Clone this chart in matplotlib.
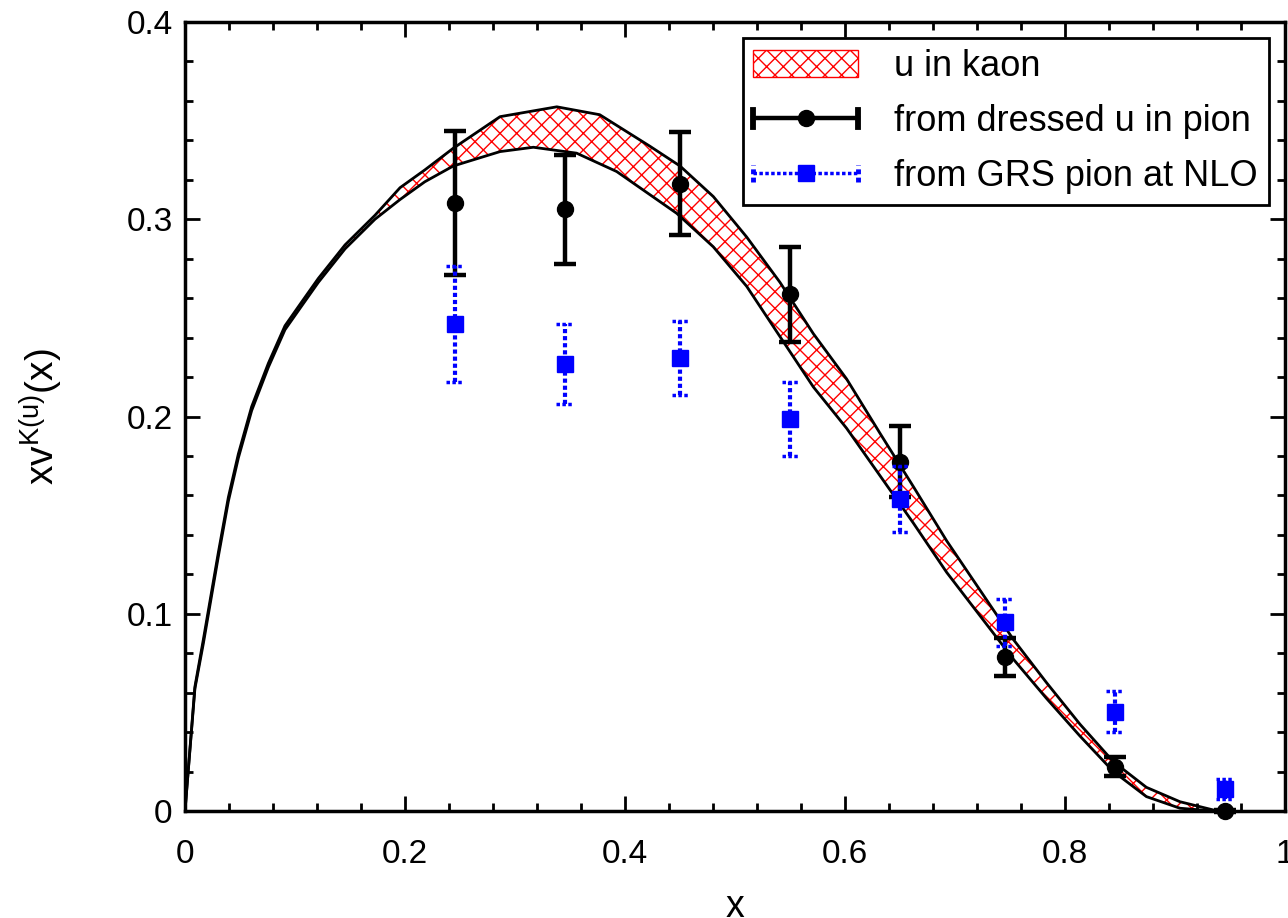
import matplotlib
matplotlib.use("Agg")
import matplotlib.pyplot as plt
from matplotlib.lines import Line2D
from matplotlib.patches import Patch
from matplotlib.legend_handler import HandlerBase
import numpy as np

plt.rcParams['font.family'] = ['Liberation Sans', 'DejaVu Sans']
plt.rcParams['mathtext.fontset'] = 'custom'
plt.rcParams['mathtext.rm'] = 'Liberation Sans'
plt.rcParams['mathtext.it'] = 'Liberation Sans'
plt.rcParams['hatch.linewidth'] = 1.0

# ---- data ----
band_upper_x = [0.0, 0.009, 0.0167, 0.0303, 0.0394, 0.0485, 0.0606, 0.0758, 0.0909, 0.106,
                0.1212, 0.1455, 0.1727, 0.1955, 0.218, 0.2439, 0.2864, 0.338, 0.377, 0.4227,
                0.45, 0.4803, 0.5106, 0.5409, 0.5712, 0.6015, 0.6318, 0.6621, 0.6924, 0.7227,
                0.753, 0.7833, 0.8136, 0.844, 0.874, 0.9045, 0.935, 0.94]
band_upper_y = [0.0, 0.063, 0.087, 0.131, 0.159, 0.181, 0.205, 0.227, 0.246, 0.258,
                0.270, 0.287, 0.302, 0.316, 0.325, 0.336, 0.352, 0.357, 0.353, 0.337,
                0.327, 0.3115, 0.291, 0.268, 0.242, 0.219, 0.1915, 0.1645, 0.137, 0.112,
                0.087, 0.065, 0.044, 0.025, 0.012, 0.0047, 0.0005, 0.0]
band_lower_x = [0.0, 0.009, 0.0167, 0.0303, 0.0394, 0.0485, 0.0606, 0.0758, 0.0909, 0.106,
                0.1212, 0.1455, 0.1727, 0.1955, 0.218, 0.2439, 0.2864, 0.3167, 0.356, 0.3924,
                0.447, 0.4803, 0.5106, 0.5409, 0.5712, 0.6015, 0.6318, 0.6621, 0.6924, 0.7227,
                0.753, 0.7833, 0.8136, 0.844, 0.874, 0.9045, 0.935, 0.94]
band_lower_y = [0.0, 0.062, 0.085, 0.129, 0.157, 0.179, 0.203, 0.225, 0.244, 0.256,
                0.268, 0.285, 0.300, 0.310, 0.319, 0.327, 0.3343, 0.3365, 0.3335, 0.3242,
                0.303, 0.286, 0.266, 0.2405, 0.215, 0.194, 0.170, 0.146, 0.121, 0.099,
                0.077, 0.057, 0.038, 0.020, 0.0073, 0.0014, 0.0, 0.0]

pts_x = [0.245, 0.345, 0.45, 0.55, 0.65, 0.745, 0.845, 0.945]
dressed_y = [0.308, 0.305, 0.318, 0.262, 0.177, 0.078, 0.0225, 0.0]
dressed_err = [0.0365, 0.0275, 0.026, 0.024, 0.018, 0.0095, 0.0047, 0.0005]
grs_y = [0.247, 0.2265, 0.2296, 0.1987, 0.158, 0.0957, 0.0504, 0.011]
grs_err = [0.0293, 0.0203, 0.0186, 0.0186, 0.0167, 0.0118, 0.0103, 0.0051]

xticks = [0, 0.2, 0.4, 0.6, 0.8, 1.0]
xtick_labels = ['0', '0.2', '0.4', '0.6', '0.8', '1']
yticks = [0, 0.1, 0.2, 0.3, 0.4]
ytick_labels = ['0', '0.1', '0.2', '0.3', '0.4']

legend_labels = ['u in kaon', 'from dressed u in pion', 'from GRS pion at NLO']

# ---- figure ----
fig = plt.figure(figsize=(12.88, 9.18), dpi=100)
ax = fig.add_axes([185/1288, 1 - 811/918, 1100/1288, (811 - 22)/918])

# band
common_x = np.union1d(band_upper_x, band_lower_x)
up = np.interp(common_x, band_upper_x, band_upper_y)
lo = np.interp(common_x, band_lower_x, band_lower_y)
ax.fill_between(common_x, lo, up, facecolor='white', edgecolor='red', hatch='xx',
                linewidth=0, zorder=1)
ax.plot(band_upper_x, band_upper_y, color='black', lw=2.0, zorder=2)
ax.plot(band_lower_x, band_lower_y, color='black', lw=2.0, zorder=2)

# dressed (black)
eb = ax.errorbar(pts_x, dressed_y, yerr=dressed_err, fmt='o', color='black', ms=11.5,
                 elinewidth=3.2, capsize=8, capthick=3.2, zorder=4)
for art in eb.lines:
    if art is None:
        continue
    if isinstance(art, tuple):
        for a in art:
            a.set_clip_on(False)
    else:
        art.set_clip_on(False)

# GRS (blue, dotted bars)
blue = '#0000ff'
px = np.array(pts_x)
gy = np.array(grs_y)
ge = np.array(grs_err)
ax.vlines(px, gy - ge, gy + ge, colors=blue, linestyles=[(0, (1.0, 0.7))], lw=3.0, zorder=5)
capw = 0.0075
ax.hlines(gy + ge, px - capw, px + capw, colors=blue, linestyles=[(0, (1.0, 0.7))], lw=2.5, zorder=5)
ax.hlines(gy - ge, px - capw, px + capw, colors=blue, linestyles=[(0, (1.0, 0.7))], lw=2.5, zorder=5)
ax.plot(px, gy, 's', color=blue, ms=12, zorder=6, ls='none', clip_on=False)

ax.set_xlim(0, 1)
ax.set_ylim(0, 0.4)
ax.set_xticks(xticks)
ax.set_xticklabels(xtick_labels)
ax.set_yticks(yticks)
ax.set_yticklabels(ytick_labels)
ax.set_xticks(np.arange(0, 1.0001, 0.04), minor=True)
ax.set_yticks(np.arange(0, 0.4001, 0.02), minor=True)
ax.tick_params(which='both', direction='in', top=True, right=True, labelsize=24, color='black')
ax.tick_params(which='major', length=11, width=2.0)
ax.tick_params(which='minor', length=5.5, width=2.0)
ax.tick_params(axis='x', which='major', pad=20)
ax.tick_params(axis='y', which='major', pad=9)
for s in ax.spines.values():
    s.set_linewidth(2.5)

ax.set_xlabel('x', fontsize=27, labelpad=14)
ax.set_ylabel(r'xv$^{\mathrm{K(u)}}$(x)', fontsize=28, labelpad=44)


class HBarHandler(HandlerBase):
    def __init__(self, color, ls, lw, marker, ms, capls):
        super().__init__()
        self.color, self.ls, self.lw, self.marker, self.ms, self.capls = color, ls, lw, marker, ms, capls

    def create_artists(self, legend, orig_handle, xdescent, ydescent, width, height, fontsize, trans):
        x0 = -xdescent
        x1 = -xdescent + width
        y = -ydescent + height / 2
        line = Line2D([x0, x1], [y, y], color=self.color, ls=self.ls, lw=self.lw, transform=trans)
        c1 = Line2D([x0, x0], [y - 6, y + 6], color=self.color, ls=self.capls, lw=self.lw + 1, transform=trans)
        c2 = Line2D([x1, x1], [y - 6, y + 6], color=self.color, ls=self.capls, lw=self.lw + 1, transform=trans)
        mk = Line2D([(x0 + x1) / 2], [y], marker=self.marker, ms=self.ms, color=self.color,
                    ls='none', transform=trans)
        return [line, c1, c2, mk]


h_band = Patch(facecolor='white', edgecolor='red', hatch='xx', linewidth=1.0)
h_dressed = Line2D([], [], color='black')
h_grs = Line2D([], [], color=blue)
leg = ax.legend([h_band, h_dressed, h_grs], legend_labels, loc='upper right', fontsize=26,
                handlelength=2.9, handleheight=0.8, handletextpad=1.0, labelspacing=0.55,
                borderpad=0.3, borderaxespad=0.45, fancybox=False, framealpha=1,
                edgecolor='black',
                handler_map={h_dressed: HBarHandler('black', '-', 3.2, 'o', 11.5, '-'),
                             h_grs: HBarHandler(blue, (0, (1.0, 0.7)), 2.5, 's', 12, (0, (1.0, 0.7)))})
leg.get_frame().set_linewidth(2.0)

fig.savefig('out.png', dpi=100)
